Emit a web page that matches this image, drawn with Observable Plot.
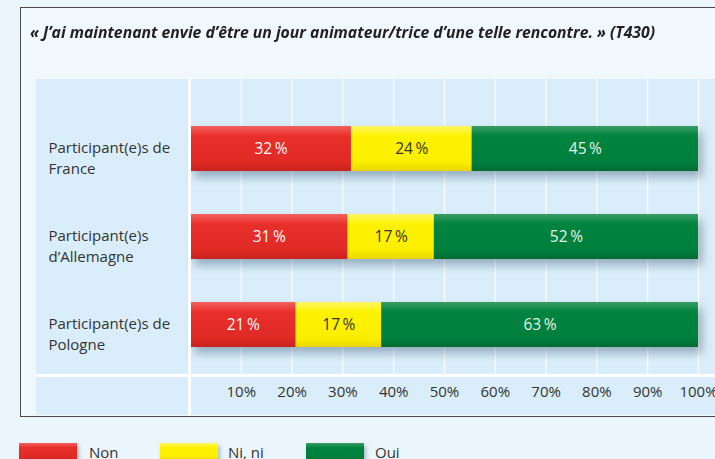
<!DOCTYPE html>
<html>
<head>
<meta charset="utf-8">
<script src="https://cdn.jsdelivr.net/npm/d3@7"></script>
<script src="https://cdn.jsdelivr.net/npm/@observablehq/plot@0.6"></script>
<style>
  html, body { margin:0; padding:0; width:715px; height:459px; overflow:hidden; background:#ebf5fc; font-family:"Open Sans", "Noto Sans", sans-serif; }
  #frame { position:absolute; left:20px; top:7px; width:720px; height:410px; border:1px solid #4a4a4a; background:#f0f8fd; box-sizing:border-box; }
  #title { position:absolute; left:30px; top:21px; font-weight:bold; font-style:italic; font-size:15.5px; color:#222; white-space:nowrap; transform-origin:left center; font-family:"Liberation Sans Narrow","Open Sans",sans-serif; }
  #panel { position:absolute; left:36px; top:79px; width:690px; height:336px; background:#d9eefa; }
  #vsep { position:absolute; left:188px; top:79px; width:3px; height:336px; background:#fff; }
  #hsep { position:absolute; left:36px; top:374px; width:690px; height:3px; background:#fff; }
  #chart { position:absolute; left:0; top:79px; }
  #legend { position:absolute; left:0; top:443px; }
  .sw { position:absolute; top:0; width:58px; height:18px; }
  .lt { position:absolute; top:0px; font-size:15px; color:#333; line-height:18px; white-space:nowrap; }
</style>
</head>
<body>
<div id="frame"></div>
<div id="title"></div>
<div id="panel"></div>
<div id="chart"></div>
<div id="vsep"></div>
<div id="hsep"></div>
<div id="legend"></div>
<script>
const titleText = "« J’ai maintenant envie d’être un jour animateur/trice d’une telle rencontre. » (T430)";
const categories = ["Participant(e)s de\nFrance", "Participant(e)s\nd’Allemagne", "Participant(e)s de\nPologne"];
const responses = ["Non", "Ni, ni", "Oui"];
const nonValues = [32, 31, 21];
const niniValues = [24, 17, 17];
const ouiValues = [45, 52, 63];
const tickValues = [10, 20, 30, 40, 50, 60, 70, 80, 90, 100];
const tickLabels = ["10%", "20%", "30%", "40%", "50%", "60%", "70%", "80%", "90%", "100%"];
const gradStops = [
  ["#f2615c", "#e8302b", "#e02a26", "#c9221e"],
  ["#fff66a", "#fff200", "#fbee00", "#e9d800"],
  ["#3a9d65", "#00843f", "#007f3c", "#006b32"]
];
const labelColors = ["#ffffff", "#333333", "#e6f2e8"];

const seriesValues = [nonValues, niniValues, ouiValues];
const data = categories.flatMap((c, i) => responses.map((r, j) => ({cat: c, resp: r, value: seriesValues[j][i], idx: j})));

const title = document.getElementById("title");
title.textContent = titleText;

const chart = Plot.plot({
  width: 715,
  height: 336,
  marginLeft: 190,
  marginRight: 17,
  marginTop: 0,
  marginBottom: 40,
  style: {background: "transparent", fontFamily: "'Open Sans', 'Noto Sans', sans-serif", fontSize: "14.5px", overflow: "visible"},
  x: {domain: [0, 1], axis: null, label: null},
  y: {domain: categories, axis: null, label: null, paddingInner: 0.483, paddingOuter: 0.4045, align: 0.625},
  color: {domain: responses, range: responses.map((r, j) => `url(#grad${j})`)},
  marks: [
    Plot.ruleX(tickValues.map(v => v / 100), {stroke: "#ffffff", strokeWidth: 1.3, strokeOpacity: 0.85}),
    Plot.barX(data, Plot.stackX({x: "value", y: "cat", fill: "resp", offset: "normalize", order: responses})),
    Plot.text(data, Plot.stackX({x: "value", y: "cat", offset: "normalize", order: responses,
      text: d => d.value + "\u2009%", fill: d => labelColors[d.idx], fontSize: 15.5})),
    Plot.text(categories, {y: d => d, frameAnchor: "left", dx: -142, dy: 8, textAnchor: "start", lineHeight: 1.4, fill: "#333", fontSize: 15}),
    Plot.axisX(tickValues.map(v => v / 100), {tickSize: 0, tickPadding: 11, fill: "#333", fontSize: 15, label: null,
      tickFormat: d => tickLabels[tickValues.indexOf(Math.round(d * 100))]})
  ]
});

const svg = d3.select(chart);
const defs = svg.insert("defs", ":first-child");
gradStops.forEach((stops, j) => {
  const g = defs.append("linearGradient").attr("id", `grad${j}`).attr("x1", 0).attr("y1", 0).attr("x2", 0).attr("y2", 1);
  [0, 0.22, 0.8, 1].forEach((o, k) => g.append("stop").attr("offset", o).attr("stop-color", stops[k]));
});
svg.selectAll('g[aria-label="bar"]').style("filter", "drop-shadow(4px 6px 5px rgba(20,50,80,0.35))");
document.getElementById("chart").appendChild(chart);

// legend
const legend = d3.select("#legend");
const swX = [19, 160, 306];
const txX = [89, 228, 375];
responses.forEach((r, j) => {
  const s = gradStops[j];
  legend.append("div").attr("class", "sw").style("left", swX[j] + "px")
    .style("background", `linear-gradient(${s[0]}, ${s[1]} 25%, ${s[2]} 75%, ${s[3]})`)
    .style("box-shadow", "2px 3px 4px rgba(20,50,80,0.3)");
  legend.append("div").attr("class", "lt").style("left", txX[j] + "px").text(r);
});

// fit title to its width in the reference
const w = title.getBoundingClientRect().width;
title.style.transform = `scaleX(${625 / w})`;
</script>
</body>
</html>
